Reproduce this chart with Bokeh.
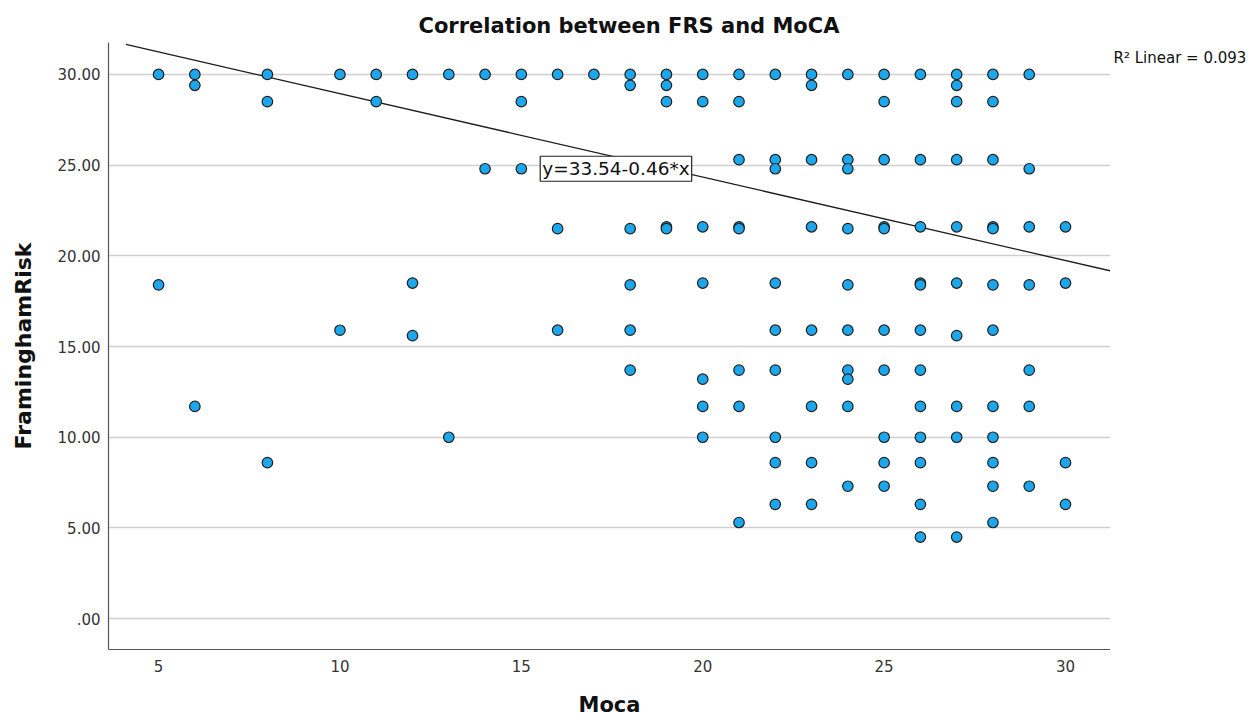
from bokeh.plotting import figure
from bokeh.layouts import row
from bokeh.models import Label, Range1d, FixedTicker, CustomJSTickFormatter
from bokeh.embed import file_html
from bokeh.resources import INLINE

# ---- data (MoCA score, Framingham risk) ----
moca = (
    [5, 5] + [6, 6, 6] + [8, 8, 8] + [10, 10] + [11, 11] + [12, 12, 12] + [13, 13]
    + [14, 14] + [15, 15, 15] + [16, 16, 16, 16] + [17, 17]
    + [18] * 7 + [19] * 6 + [20] * 7 + [21] * 8 + [22] * 9 + [23] * 8
    + [24] * 10 + [25] * 10 + [26] * 12 + [27] * 10 + [28] * 12 + [29] * 7 + [30] * 4
)
frs = (
    [30.0, 18.4]
    + [30.0, 29.4, 11.7]
    + [30.0, 28.5, 8.6]
    + [30.0, 15.9]
    + [30.0, 28.5]
    + [30.0, 18.5, 15.6]
    + [30.0, 10.0]
    + [30.0, 24.8]
    + [30.0, 28.5, 24.8]
    + [30.0, 24.8, 21.5, 15.9]
    + [30.0, 24.8]
    + [30.0, 29.4, 24.8, 21.5, 18.4, 15.9, 13.7]
    + [30.0, 29.4, 28.5, 24.8, 21.6, 21.5]
    + [30.0, 28.5, 21.6, 18.5, 13.2, 11.7, 10.0]
    + [30.0, 28.5, 25.3, 21.6, 21.5, 13.7, 11.7, 5.3]
    + [30.0, 25.3, 24.8, 18.5, 15.9, 13.7, 10.0, 8.6, 6.3]
    + [30.0, 29.4, 25.3, 21.6, 15.9, 11.7, 8.6, 6.3]
    + [30.0, 25.3, 24.8, 21.5, 18.4, 15.9, 13.7, 13.2, 11.7, 7.3]
    + [30.0, 28.5, 25.3, 21.6, 21.5, 15.9, 13.7, 10.0, 8.6, 7.3]
    + [30.0, 25.3, 21.6, 18.5, 18.4, 15.9, 13.7, 11.7, 10.0, 8.6, 6.3, 4.5]
    + [30.0, 29.4, 28.5, 25.3, 21.6, 18.5, 15.6, 11.7, 10.0, 4.5]
    + [30.0, 28.5, 25.3, 21.6, 21.5, 18.4, 15.9, 11.7, 10.0, 8.6, 7.3, 5.3]
    + [30.0, 24.8, 21.6, 18.4, 13.7, 11.7, 7.3]
    + [21.6, 18.5, 8.6, 6.3]
)

x_ticks = [5, 10, 15, 20, 25, 30]
y_ticks = [0, 5, 10, 15, 20, 25, 30]

fit_intercept = 33.54
fit_slope = -0.46
fit_x = [4.1, 31.3]
fit_y = [fit_intercept + fit_slope * v for v in fit_x]

title_text = "Correlation between FRS and MoCA"
equation_text = "y=33.54-0.46*x"
r2_text = "R\u00b2 Linear = 0.093"
x_label = "Moca"
y_label = "FraminghamRisk"

FONT = "DejaVu Sans"
Y_RANGE = (-1.7, 31.76)

p = figure(
    width=1110, height=719,
    x_range=Range1d(3.62, 31.24), y_range=Range1d(*Y_RANGE),
    output_backend="svg", toolbar_location=None, tools="",
    min_border_left=108, min_border_right=0, min_border_top=42, min_border_bottom=68,
)
p.outline_line_color = None
p.background_fill_color = "white"
p.border_fill_color = "white"

# title
p.title.text = title_text
p.title.align = "left"
p.title.offset = 310
p.title.standoff = 9
p.title.text_font = FONT
p.title.text_font_size = "21px"
p.title.text_font_style = "bold"
p.title.text_color = "#111111"

# grid
p.xgrid.visible = False
p.ygrid.ticker = FixedTicker(ticks=y_ticks)
p.ygrid.grid_line_color = "#cfcfcf"
p.ygrid.grid_line_width = 1.6

# axes
for ax in (p.xaxis[0], p.yaxis[0]):
    ax.axis_line_color = "#555555"
    ax.axis_line_width = 1.2
    ax.major_tick_line_color = None
    ax.minor_tick_line_color = None
    ax.major_tick_out = 0
    ax.major_tick_in = 0
    ax.major_label_text_font = FONT
    ax.major_label_text_font_size = "15px"
    ax.major_label_text_color = "#333333"
    ax.axis_label_text_font = FONT
    ax.axis_label_text_font_style = "bold"
    ax.axis_label_text_color = "#111111"

p.xaxis.ticker = FixedTicker(ticks=x_ticks)
p.yaxis.ticker = FixedTicker(ticks=y_ticks)
p.yaxis.formatter = CustomJSTickFormatter(code="return tick === 0 ? '.00' : tick.toFixed(2);")
p.xaxis.major_label_standoff = 10
p.yaxis.major_label_standoff = 8
p.xaxis.axis_label = x_label
p.yaxis.axis_label = y_label
p.xaxis.axis_label_text_font_size = "21px"
p.yaxis.axis_label_text_font_size = "22px"
p.xaxis.axis_label_standoff = 18
p.yaxis.axis_label_standoff = 19

# fit line
p.line(fit_x, fit_y, line_color="#1a1a1a", line_width=1.3)

# points
p.scatter(moca, frs, marker="circle", size=10.5,
          fill_color="#1ca7ec", line_color="#1f1f1f", line_width=1.2)

# equation box
p.add_layout(Label(
    x=15.52, y=24.8, text=equation_text,
    text_font=FONT, text_font_size="18.5px", text_color="#111111",
    text_align="left", text_baseline="middle",
    border_line_color="#222222", border_line_width=1.2,
    background_fill_color="white", padding=2,
))

# right-hand strip with the R^2 note (shares the y scale of the main plot)
side = figure(
    width=147, height=719,
    x_range=Range1d(0, 147), y_range=Range1d(*Y_RANGE),
    output_backend="svg", toolbar_location=None, tools="",
    min_border=0,
)
side.axis.visible = False
side.grid.visible = False
side.outline_line_color = None
side.add_layout(Label(
    x=3, y=30.88, text=r2_text,
    text_font=FONT, text_font_size="15px", text_color="#111111",
    text_align="left", text_baseline="middle",
))

layout = row(p, side, spacing=0)

open("out.html", "w").write(file_html(layout, INLINE))
